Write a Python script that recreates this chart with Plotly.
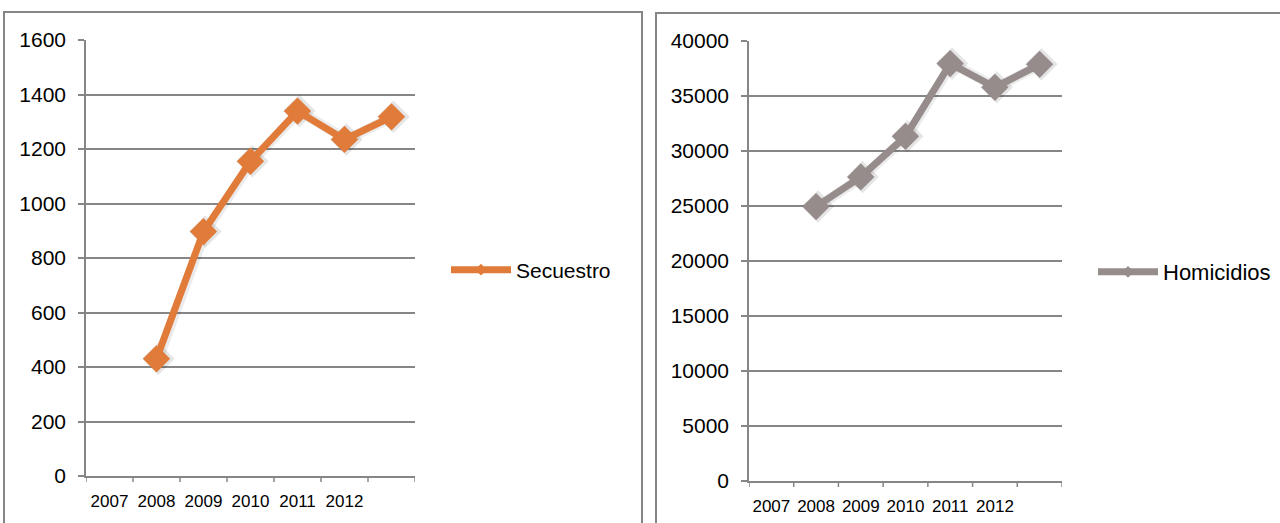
import plotly.graph_objects as go

# Category axis: seven slots, the last one unlabeled
years = ["2007", "2008", "2009", "2010", "2011", "2012", ""]

secuestro = [None, 430, 897, 1155, 1339, 1235, 1318]
homicidios = [None, 24950, 27640, 31330, 37950, 35790, 37880]

orange = "rgb(224,123,57)"
grey = "rgb(150,140,140)"
axis_grey = "rgb(134,134,134)"
FONT = "Liberation Sans, Arial, sans-serif"

fig = go.Figure()
xs = list(range(len(years)))

for vals, name, color, xa, ya, lg in [
    (secuestro, "Secuestro", orange, "x", "y", "legend"),
    (homicidios, "Homicidios", grey, "x2", "y2", "legend2"),
]:
    # soft drop shadow under the series
    fig.add_trace(go.Scatter(
        x=[v + 0.04 for v in xs], y=vals, mode="lines+markers",
        xaxis=xa, yaxis=ya, showlegend=False, hoverinfo="skip",
        line=dict(color="rgba(0,0,0,0.08)", width=10),
        marker=dict(symbol="diamond", size=25, color="rgba(0,0,0,0.10)"),
    ))
    fig.add_trace(go.Scatter(
        x=xs, y=vals, name=name, mode="lines+markers",
        xaxis=xa, yaxis=ya, showlegend=False,
        line=dict(color=color, width=7),
        marker=dict(symbol="diamond", size=21, color=color),
    ))
    # legend entry with a smaller marker
    fig.add_trace(go.Scatter(
        x=[None], y=[None], name=name, mode="lines+markers",
        xaxis=xa, yaxis=ya, legend=lg, showlegend=True,
        line=dict(color=color, width=7),
        marker=dict(symbol="diamond", size=9, color=color),
    ))

W, H = 1280, 523


def px_x(v):
    return v / W


def px_y(v):
    return 1 - v / H


xcommon = dict(
    tickmode="array", tickvals=xs, ticktext=years,
    range=[-0.5, len(years) - 0.5], showgrid=False, zeroline=False,
    showline=True, linecolor=axis_grey, linewidth=1.5,
    ticks="", tickfont=dict(family=FONT, size=17, color="black"),
    ticklabelstandoff=9, fixedrange=True, automargin=False,
)
ycommon = dict(
    showgrid=True, gridcolor=axis_grey, gridwidth=1.5, zeroline=False,
    showline=True, linecolor=axis_grey, linewidth=1.5,
    ticks="outside", ticklen=6, tickcolor=axis_grey, tickwidth=1.5,
    tickfont=dict(family=FONT, size=21, color="black"), tickformat="d",
    ticklabelstandoff=8, fixedrange=True, automargin=False,
)

fig.update_layout(
    template="none",
    width=W, height=H,
    margin=dict(l=0, r=0, t=0, b=0, autoexpand=False),
    paper_bgcolor="white", plot_bgcolor="white",
    font=dict(family=FONT, color="black"),
    xaxis=dict(domain=[px_x(86), px_x(415)], anchor="y", **xcommon),
    yaxis=dict(domain=[px_y(476), px_y(40)], anchor="x",
               range=[0, 1600], dtick=200, **ycommon),
    xaxis2=dict(domain=[px_x(749), px_x(1062)], anchor="y2", **xcommon),
    yaxis2=dict(domain=[px_y(481), px_y(41)], anchor="x2",
                range=[0, 40000], dtick=5000, **ycommon),
    legend=dict(x=px_x(446), y=px_y(270), xanchor="left", yanchor="middle",
                font=dict(family=FONT, size=21, color="black"),
                itemwidth=60, bgcolor="rgba(0,0,0,0)"),
    legend2=dict(x=px_x(1093), y=px_y(272), xanchor="left", yanchor="middle",
                 font=dict(family=FONT, size=22, color="black"),
                 itemwidth=60, bgcolor="rgba(0,0,0,0)"),
    showlegend=True,
)

# Tick marks between categories on the x axes
for xa, y0px in [("x", 476), ("x2", 481)]:
    for i in range(len(years) + 1):
        fig.add_shape(type="line", xref=xa, yref="paper",
                      x0=i - 0.5, x1=i - 0.5,
                      y0=px_y(y0px), y1=px_y(y0px + 6),
                      line=dict(color=axis_grey, width=1.5))

# Panel frames
fig.add_shape(type="rect", xref="paper", yref="paper",
              x0=px_x(4), x1=px_x(642), y0=px_y(540), y1=px_y(12),
              line=dict(color=axis_grey, width=2), layer="below")
fig.add_shape(type="rect", xref="paper", yref="paper",
              x0=px_x(656), x1=px_x(1300), y0=px_y(540), y1=px_y(13),
              line=dict(color=axis_grey, width=2), layer="below")

fig.write_html("out.html")
